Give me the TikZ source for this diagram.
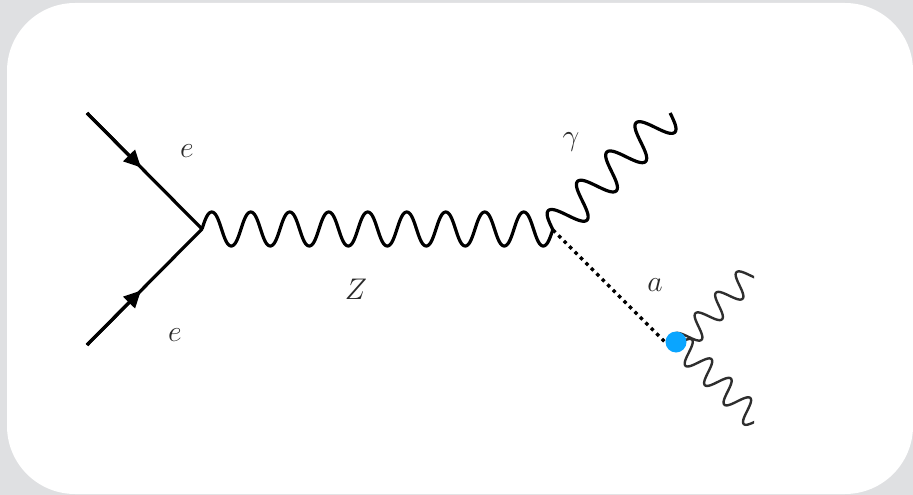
\documentclass[tikz,border=0pt]{standalone}
\usetikzlibrary{arrows.meta}
\definecolor{bggray}{HTML}{DFE0E2}
\definecolor{dotblue}{HTML}{0AA5FF}
\definecolor{labelgray}{HTML}{2A2A2A}
\definecolor{thinwave}{HTML}{2E2E2E}
% style, start x, start y, axis ux, axis uy, period, amplitude, periods
\newcommand\wave[8]{%
  \draw[#1] plot[smooth,samples=361,domain=0:{(#8)},variable=\t]
  ({#2+\t*(#6)*(#4)+(#7)*(sin(360*\t)+0.03*sin(1080*\t))/0.97*(#5)},{#3+\t*(#6)*(#5)-(#7)*(sin(360*\t)+0.03*sin(1080*\t))/0.97*(#4)});}
\tikzset{
  lab/.style={text=labelgray,inner sep=0pt,scale=1.2,font=\fontsize{24.88}{27}\selectfont},
  fermion/.style={line width=3.2pt,black},
  fermarrow/.style={line width=3.2pt,black,-{Triangle[length=17pt,width=16pt]}},
  mainwave/.style={line width=3.2pt,black,line join=round},
  decaywave/.style={line width=2.4pt,thinwave,line join=round},
  scalar/.style={line width=3.2pt,black,dash pattern=on 3.5pt off 4.2pt},
  vertexdot/.style={circle,fill=dotblue,minimum size=21pt,inner sep=0pt}
}
\begin{document}
\begin{tikzpicture}[x=1pt,y=-1pt]
\useasboundingbox (0,0) rectangle (913,495);
\fill[bggray] (0,0) rectangle (913,495);
\fill[white,rounded corners=68pt] (7,3) rectangle (913,494);
\coordinate (e1) at (87,113);
\coordinate (e2) at (87,345);
\coordinate (v1) at (202,229);
\coordinate (v2) at (553,230);
\coordinate (t1) at (141,167.5);
\coordinate (t2) at (141,290.5);
\coordinate (v3) at (665,342);
\draw[fermion,line join=round] (e1) -- (v1) -- (e2);
\draw[fermarrow] (e1) -- (t1);
\draw[fermarrow] (e2) -- (t2);
\wave{mainwave}{202}{229}{1}{0}{39}{17}{9}
\wave{mainwave}{553}{230}{0.7071}{-0.7071}{41.4}{17}{4}
\draw[scalar] (v2) -- (v3);
\begin{scope}
\clip (660,260) rectangle (754,430);
\wave{decaywave}{678}{347}{0.7071}{-0.7071}{29}{11.5}{4}
\wave{decaywave}{679}{343}{0.7071}{0.7071}{27.5}{11.5}{5}
\end{scope}
\node[vertexdot] (axv) at (676,342) {};
\node[lab] (le1) at (187,151) {$e$};
\node[lab] (le2) at (175,335) {$e$};
\node[lab] (lz) at (356,289) {$Z$};
\node[lab] (lg) at (571,142) {$\gamma$};
\node[lab] (la) at (655,285) {$a$};
\end{tikzpicture}
\end{document}
